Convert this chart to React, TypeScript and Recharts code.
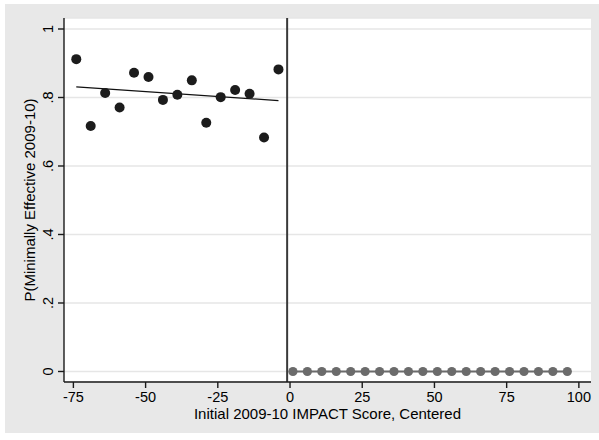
import React from "react";
import {
  ScatterChart,
  Scatter,
  XAxis,
  YAxis,
  CartesianGrid,
  ReferenceLine
} from "recharts";

// binned scores (bin centres) and share rated minimally effective
const leftBins = [-74, -69, -64, -59, -54, -49, -44, -39, -34, -29, -24, -19, -14, -9, -4];
const leftShare = [0.912, 0.717, 0.813, 0.771, 0.872, 0.86, 0.793, 0.808, 0.85, 0.726, 0.801, 0.822, 0.811, 0.683, 0.882];
const rightBins = [1, 6, 11, 16, 21, 26, 31, 36, 41, 46, 51, 56, 61, 66, 71, 76, 81, 86, 91, 96];
const rightShare = [0, 0, 0, 0, 0, 0, 0, 0, 0, 0, 0, 0, 0, 0, 0, 0, 0, 0, 0, 0];
const fitX = [-74, -4];
const fitY = [0.831, 0.791];
const cutoff = -1;

const xTicks = [-75, -50, -25, 0, 25, 50, 75, 100];
const yTicks = [0, 0.2, 0.4, 0.6, 0.8, 1];
const yTickLabels = ["0", ".2", ".4", ".6", ".8", "1"];

const leftData = leftBins.map((x, i) => ({ x, y: leftShare[i] }));
const rightData = rightBins.map((x, i) => ({ x, y: rightShare[i] }));
const fitData = fitX.map((x, i) => ({ x, y: fitY[i] }));

const FONT = "'Liberation Sans', Arial, Helvetica, sans-serif";

const YTick = ({ y, payload }: any) => {
  const idx = yTicks.findIndex(t => Math.abs(t - payload.value) < 1e-6);
  return (
    <g transform={`translate(47.5,${y}) rotate(-90)`}>
      <text textAnchor="middle" dy="0.36em" fontSize={14.5} fill="#000" fontFamily={FONT}>
        {idx >= 0 ? yTickLabels[idx] : payload.value}
      </text>
    </g>
  );
};

export default function App() {
  return (
    <div style={{ position: "absolute", left: 0, top: 0, width: 599, height: 440, background: "#fff" }}>
      <div style={{ position: "absolute", left: 5, top: 4, width: 594, height: 429, background: "#e8e8e8" }} />
      <div style={{ position: "absolute", left: 0, top: 0 }}>
        <ScatterChart
          width={599}
          height={440}
          margin={{ top: 18, right: 8, left: 0, bottom: 0 }}
        >
          <CartesianGrid fill="#fff" vertical={false} stroke="#e6e6e6" strokeWidth={1.5} />
          <XAxis
            type="number"
            dataKey="x"
            domain={[-78.25, 104.2]}
            ticks={xTicks}
            allowDataOverflow
            height={58}
            tickSize={6}
            tickMargin={4}
            stroke="#1a1a1a"
            strokeWidth={1.4}
            tick={{ fill: "#000", fontSize: 14.5, fontFamily: FONT }}
            label={{
              content: ({ viewBox }: any) => (
                <text
                  x={viewBox.x + viewBox.width / 2}
                  y={viewBox.y + 31}
                  textAnchor="middle"
                  dominantBaseline="central"
                  fontSize={15}
                  fill="#000"
                  fontFamily={FONT}
                >
                  Initial 2009-10 IMPACT Score, Centered
                </text>
              )
            }}
          />
          <YAxis
            type="number"
            dataKey="y"
            domain={[-0.0307, 1.0321]}
            ticks={yTicks}
            allowDataOverflow
            width={64}
            tickSize={6}
            stroke="#1a1a1a"
            strokeWidth={1.4}
            tick={<YTick />}
            label={{
              content: ({ viewBox }: any) => {
                const cx = viewBox.x + 29;
                const cy = viewBox.y + viewBox.height / 2;
                return (
                  <text
                    transform={`translate(${cx},${cy}) rotate(-90)`}
                    textAnchor="middle"
                    dominantBaseline="central"
                    fontSize={15}
                    fill="#000"
                    fontFamily={FONT}
                  >
                    P(Minimally Effective 2009-10)
                  </text>
                );
              }
            }}
          />
          <ReferenceLine x={cutoff} stroke="#3a3a3a" strokeWidth={2} />
          <Scatter
            data={fitData}
            isAnimationActive={false}
            line={{ stroke: "#111", strokeWidth: 1.3 }}
            shape={() => <g />}
          />
          <Scatter
            data={rightData}
            isAnimationActive={false}
            line={{ stroke: "#6b6b6b", strokeWidth: 2 }}
            shape={(p: any) => <circle cx={p.cx} cy={p.cy} r={4.6} fill="#6b6b6b" />}
          />
          <Scatter
            data={leftData}
            isAnimationActive={false}
            shape={(p: any) => <circle cx={p.cx} cy={p.cy} r={5} fill="#1c1c1c" />}
          />
        </ScatterChart>
      </div>
    </div>
  );
}
